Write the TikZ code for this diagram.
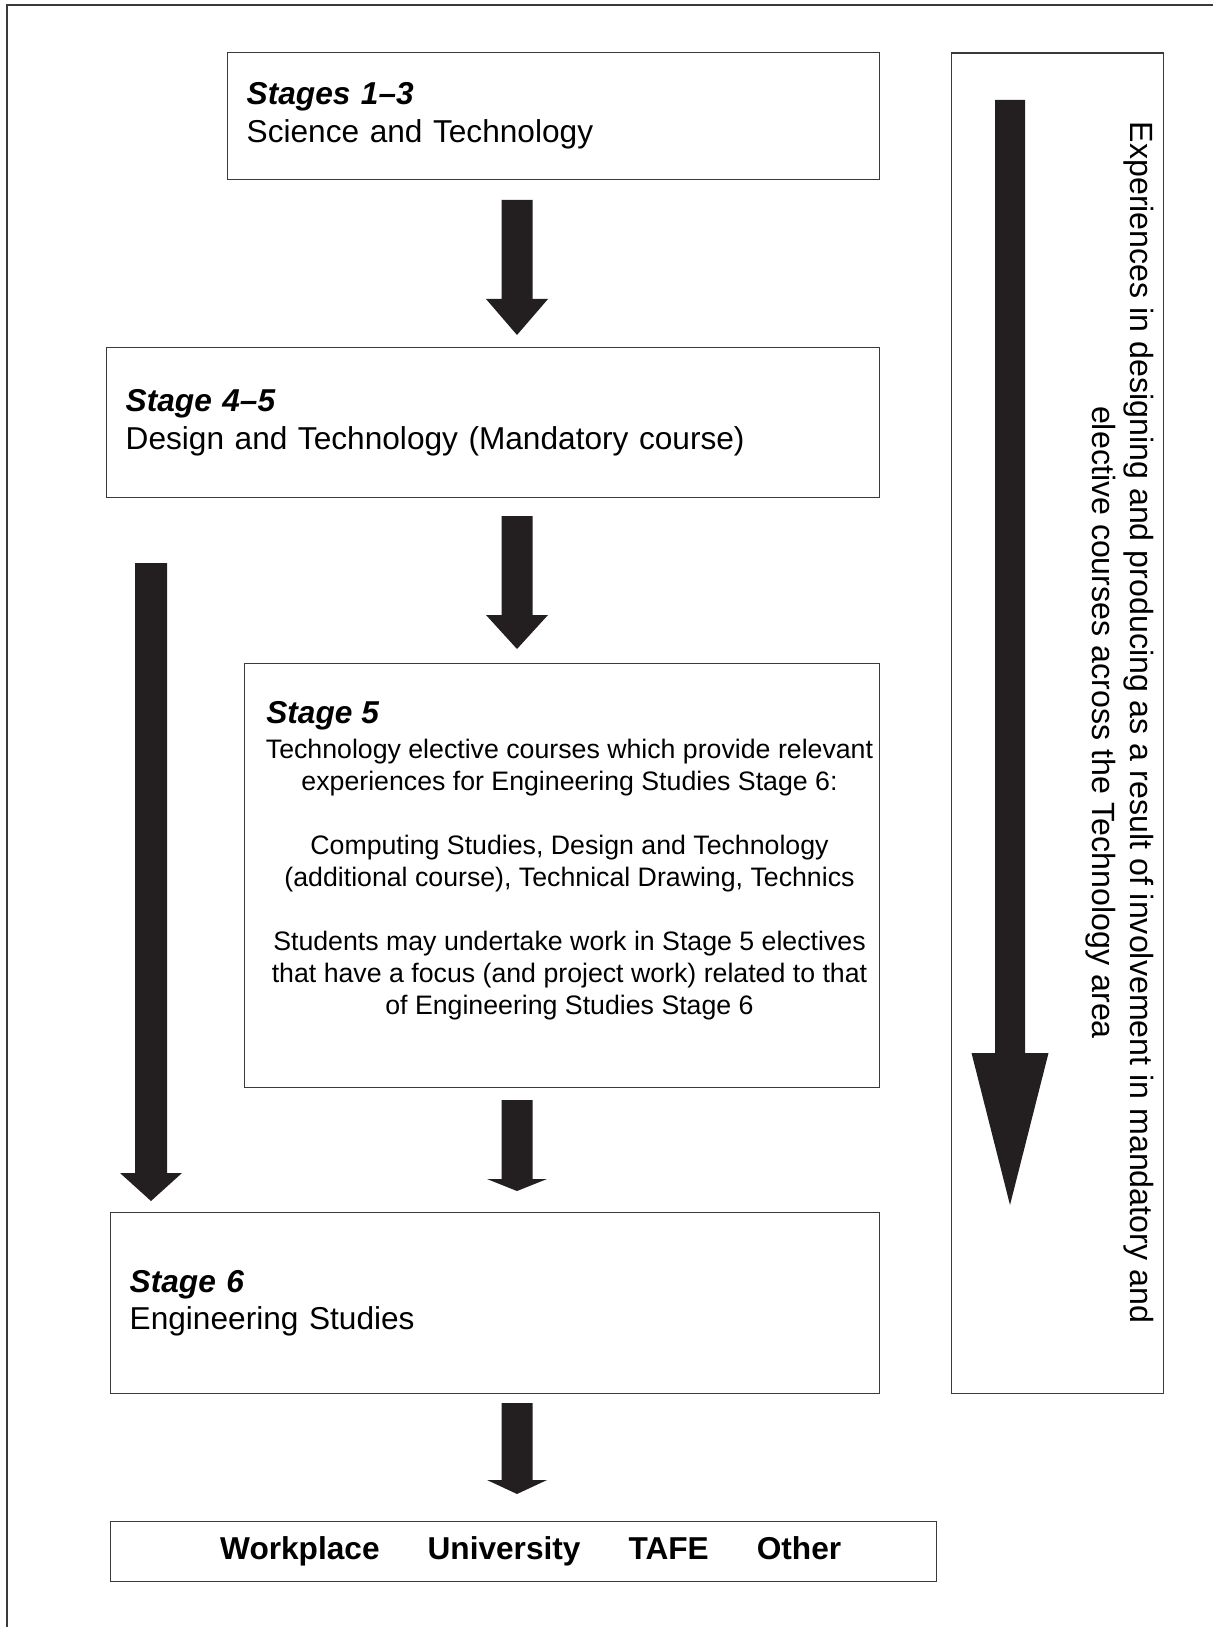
\documentclass[tikz,border=0pt]{standalone}
\usepackage{fontspec}
\setmainfont{Liberation Sans}
\usetikzlibrary{calc}
\definecolor{arrow_black}{HTML}{231F20}
\definecolor{line_grey}{HTML}{3A3A3A}

% fleche pleine : depart, pointe, longueur de tete, demi-largeur tete, demi-largeur corps
\newcommand{\bigarrow}[5]{%
  \fill[arrow_black] ($(#1)+(-#5,0)$) -- ($(#2)+(-#5,#3)$) -- ($(#2)+(-#4,#3)$) -- (#2)
    -- ($(#2)+(#4,#3)$) -- ($(#2)+(#5,#3)$) -- ($(#1)+(#5,0)$) -- cycle;}

\begin{document}
\begin{tikzpicture}[
    box/.style={draw=line_grey, line width=0.8pt, rectangle, anchor=north west,
      inner xsep=0.38cm, inner ysep=0pt, align=left, font=\fontsize{18}{21.6}\selectfont},
    head/.style={font=\fontsize{18}{21.6}\selectfont\bfseries\itshape}
  ]

    \useasboundingbox (0,0) rectangle (24.24,-32.54);

    % Cadre exterieur
    \draw[line width=1.2pt, line_grey] (0.146,-0.1) rectangle (26,-34);

    % Les cases
    \node[box, text width=12.27cm, minimum height=2.54cm] (stages13) at (4.54,-1.04)
      {{\bfseries\itshape Stages 1--3}\\Science and Technology};
    \node[box, text width=14.69cm, minimum height=3.0cm] (stage45) at (2.12,-6.94)
      {{\bfseries\itshape Stage 4--5}\\Design and Technology (Mandatory course)};
    \node[box, minimum width=12.69cm, minimum height=8.48cm] (stage5) at (4.88,-13.26) {};
    \node[box, text width=14.61cm, minimum height=3.62cm] (stage6) at (2.2,-24.24)
      {{\bfseries\itshape Stage 6}\\Engineering Studies};
    \node[box, minimum width=16.52cm, minimum height=1.2cm] (after) at (2.2,-30.42) {};
    \node[box, minimum width=4.24cm, minimum height=26.8cm] (side) at (19.02,-1.05) {};

    % Debouches
    \node[font=\fontsize{18}{21.6}\selectfont\bfseries, inner sep=0pt] (afterlist) at ($(after.center)+(0.14,0)$)
      {Workplace\hspace{0.96cm}University\hspace{0.96cm}TAFE\hspace{0.96cm}Other};

    % Texte de la case Stage 5
    \node[head, anchor=base west, inner sep=0pt] (s5head) at (5.32,-14.47) {Stage 5};
    \node[anchor=north, align=center, inner sep=0pt, font=\fontsize{15.2}{18.2}\selectfont] (s5body) at (11.39,-14.77)
      {Technology elective courses which provide relevant\\
       experiences for Engineering Studies Stage 6:\\[18.2pt]
       Computing Studies, Design and Technology\\
       (additional course), Technical Drawing, Technics\\[18.2pt]
       Students may undertake work in Stage 5 electives\\
       that have a focus (and project work) related to that\\
       of Engineering Studies Stage 6};

    % Texte vertical
    \node[rotate=-90, align=center, inner sep=0pt, font=\fontsize{18.3}{21.6}\selectfont] (sidetext) at (22.4,-14.45)
      {Experiences in designing and producing as a result of involvement in mandatory and\\
       elective courses across the Technology area};

    % Extremites des fleches
    \coordinate (a1s) at (10.34,-4.0);   \coordinate (a1e) at (10.34,-6.7);
    \coordinate (a2s) at (10.34,-10.32); \coordinate (a2e) at (10.34,-12.98);
    \coordinate (a3s) at (10.34,-22.0);  \coordinate (a3e) at (10.34,-23.82);
    \coordinate (a4s) at (10.34,-28.06); \coordinate (a4e) at (10.34,-29.88);
    \coordinate (als) at (3.02,-11.26);  \coordinate (ale) at (3.02,-24.02);
    \coordinate (ars) at (20.2,-2.0);    \coordinate (are) at (20.2,-24.1);

    % Les fleches
    \bigarrow{a1s}{a1e}{0.72}{0.62}{0.31}
    \bigarrow{a2s}{a2e}{0.68}{0.62}{0.31}
    \bigarrow{a3s}{a3e}{0.24}{0.6}{0.31}
    \bigarrow{a4s}{a4e}{0.28}{0.6}{0.31}
    \bigarrow{als}{ale}{0.56}{0.62}{0.32}
    \bigarrow{ars}{are}{3.04}{0.77}{0.3}
\end{tikzpicture}
\end{document}
